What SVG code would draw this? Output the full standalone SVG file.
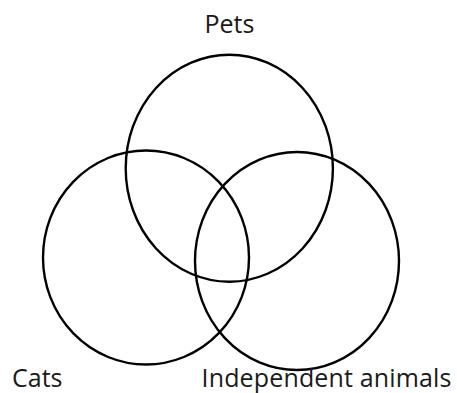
<svg xmlns="http://www.w3.org/2000/svg" width="457" height="393" viewBox="0 0 457 393">
<style>
.set{fill:none;stroke:#000;stroke-width:2.4}
.lbl{font-family:"Open Sans","Noto Sans",sans-serif;font-size:25px;fill:#1a1a1a}
</style>
<rect width="457" height="393" fill="#fff"/>
<g id="pets">
<ellipse class="set" cx="229.3" cy="168.2" rx="103.6" ry="113.5"/>
<text class="lbl" x="204.5" y="32.7">Pets</text>
</g>
<g id="cats">
<ellipse class="set" cx="146" cy="257.5" rx="103" ry="107"/>
<text class="lbl" x="12" y="386.5">Cats</text>
</g>
<g id="independent">
<ellipse class="set" cx="297" cy="261" rx="102" ry="109"/>
<text class="lbl" x="201.5" y="386.5" textLength="250" lengthAdjust="spacing">Independent animals</text>
</g>
<g id="connectors"/>
</svg>
